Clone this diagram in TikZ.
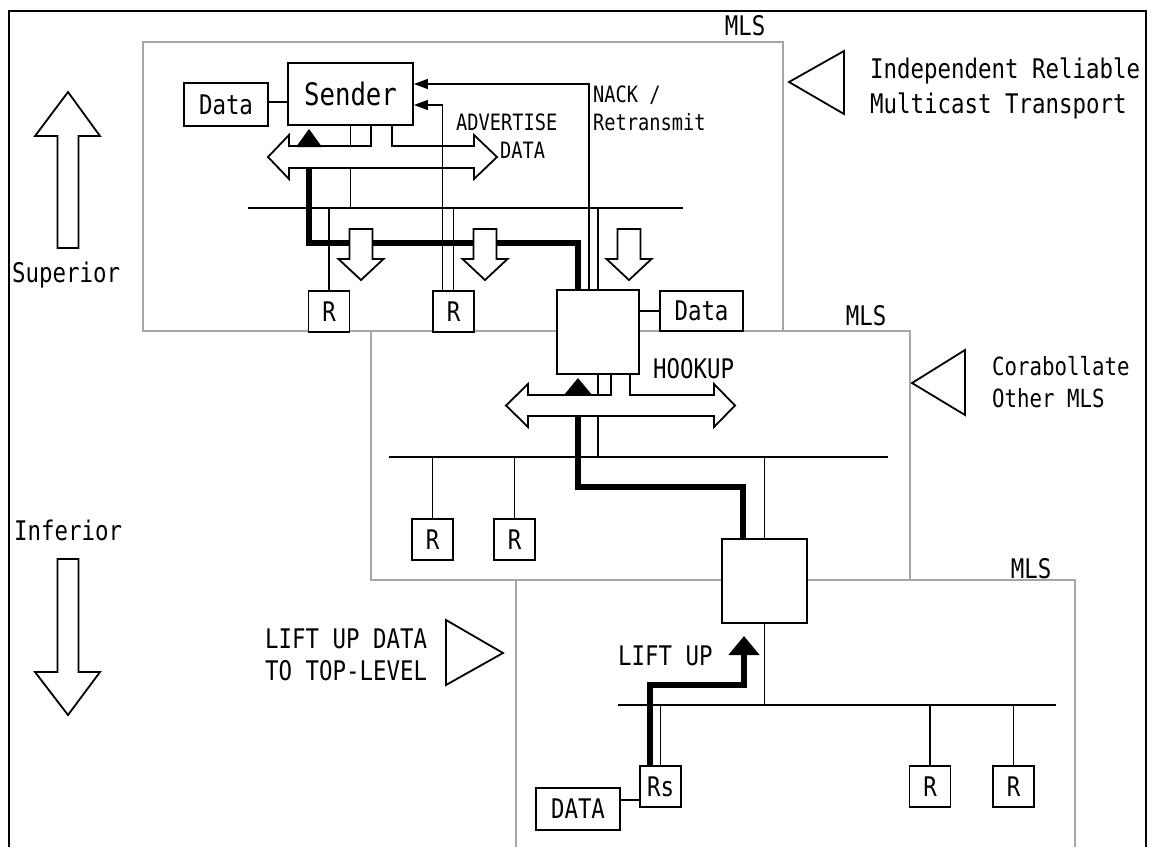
\documentclass[tikz,border=0pt]{standalone}
\usepackage{fontspec}
\usetikzlibrary{arrows.meta}
\newfontfamily\gothic[FakeStretch=0.83]{DejaVu Sans Mono}
\newcommand\gfz[1]{\gothic\fontsize{#1}{#1}\selectfont}
\begin{document}
\begin{tikzpicture}[x=1pt,y=-1pt,
  mls/.style={draw=black!35, line width=1.5pt},
  box/.style={draw, line width=1.8pt, fill=white, inner sep=0pt, font=\gfz{27}},
  rbox/.style={box, minimum width=41pt, minimum height=41pt},
  wire/.style={line width=1.3pt},
  fat/.style={line width=6pt},
  hollow/.style={draw, fill=white, line width=1.8pt, line join=miter},
  tri/.style={draw, line width=1.8pt, line join=miter},
  lbl/.style={inner sep=0pt, anchor=base west, font=\gfz{27}},
  slbl/.style={inner sep=0pt, anchor=base west, font=\gfz{22.5}}
]
\useasboundingbox (0,0) rectangle (1156,847);
\fill[white] (0,0) rectangle (1156,847);

% MLS layers
\draw[mls] (143,42) rectangle (783,331);
\draw[mls] (371,331) rectangle (910,580);
\draw[mls] (516,847) -- (516,580) -- (1075,580) -- (1075,847);

% outer frame
\draw[line width=2.5pt] (9,847) -- (9,11) -- (1146,11) -- (1146,847);

% nodes
\node[box, minimum width=84pt, minimum height=43pt] (dataT) at (226,104.5) {Data};
\node[box, minimum width=125pt, minimum height=62pt, font=\gfz{31}] (sender) at (350.5,94) {Sender};
\node[rbox] (r1) at (329,311.5) {R};
\node[rbox] (r2) at (453.5,311.5) {R};
\node[box, minimum width=82pt, minimum height=84pt] (gw1) at (598,332) {};
\node[box, minimum width=83pt, minimum height=40pt] (dataG) at (701.5,311) {Data};
\node[rbox] (r3) at (432.5,539.5) {R};
\node[rbox] (r4) at (514.5,539.5) {R};
\node[box, minimum width=85pt, minimum height=84pt] (gw2) at (764.5,581) {};
\node[rbox] (rs) at (660.5,786.5) {Rs};
\node[box, minimum width=84pt, minimum height=42pt] (dataB) at (578,809) {DATA};
\node[rbox] (r5) at (930,786.5) {R};
\node[rbox] (r6) at (1013.5,786.5) {R};

% buses
\coordinate (b1L) at (248,208); \coordinate (b1R) at (683,208);
\coordinate (b2L) at (389,457); \coordinate (b2R) at (888,457);
\coordinate (b3L) at (618,705); \coordinate (b3R) at (1056,705);
\draw[wire] (b1L) -- (b1R);
\draw[wire] (b2L) -- (b2R);
\draw[wire] (b3L) -- (b3R);

% wires
\draw[wire] (dataT.east |- sender.west) ++(0,8) -- (sender.west |- 0,102);
\draw[wire] (sender.south) -- (sender.south |- b1L);
\draw[wire] (r1.north) -- (r1.north |- b1L);
\draw[wire] (r2.north) -- (r2.north |- b1L);
\draw[wire] (gw1.north) -- (gw1.north |- b1L);
\draw[wire] (dataG.west) -- (dataG.west -| gw1.east);
\draw[wire] (gw1.south) -- (gw1.south |- b2L);
\draw[wire] (r3.north) -- (r3.north |- b2L);
\draw[wire] (r4.north) -- (r4.north |- b2L);
\draw[wire] (gw2.north) -- (gw2.north |- b2L);
\draw[wire] (gw2.south) -- (gw2.south |- b3L);
\draw[wire] (rs.north) -- (rs.north |- b3L);
\draw[wire] (r5.north) -- (r5.north |- b3L);
\draw[wire] (r6.north) -- (r6.north |- b3L);
\draw[line width=1.6pt] ([yshift=9pt]dataB.east) -- ([yshift=9pt]dataB.east -| rs.west);

% thick lift-up paths
\coordinate (k1) at (309,243);
\coordinate (k2) at (578,487);
\coordinate (k3) at (744,685);
\draw[fat] ([xshift=-20pt]gw1.north) |- (k1) -- (309,168);
\draw[fat] ([xshift=-21.5pt]gw2.north) |- (k2) -- (578,416);
\draw[fat, -{Triangle[width=30pt,length=19pt]}] ([xshift=-10.5pt]rs.north) |- (k3) -- (744,636);

% hollow down arrows in top layer
\foreach \c in {361,485,629}
  \draw[hollow] (\c-11.5,229) -- (\c+11.5,229) -- (\c+11.5,259) -- (\c+22.5,259)
    -- (\c,280) -- (\c-22.5,259) -- (\c-11.5,259) -- cycle;

% double arrows
\draw[hollow] (268,157) -- (289,135) -- (289,146) -- (371,146) -- (371,125) -- (392,125)
  -- (392,146) -- (474,146) -- (474,135) -- (497,157) -- (474,179) -- (474,168)
  -- (289,168) -- (289,179) -- cycle;
\draw[hollow] (506,405.5) -- (528,384) -- (528,395) -- (611,395) -- (611,374) -- (630,374)
  -- (630,395) -- (714,395) -- (714,384) -- (735,405.5) -- (714,427) -- (714,416)
  -- (528,416) -- (528,427) -- cycle;

% NACK / retransmit feedback
\draw[wire, -{Triangle[length=14pt,width=10pt]}] ([xshift=-11pt]r2.north) |- ([yshift=-11pt]sender.east);
\draw[wire, -{Triangle[length=14pt,width=10pt]}] ([xshift=-9pt]gw1.north) |- ([yshift=10pt]sender.east);

% black heads
\fill (296,147) -- (309,129) -- (322,147) -- cycle;
\fill (564,395) -- (578,378) -- (592,395) -- cycle;

% left big arrows
\draw[hollow] (68,92) -- (100,136) -- (78.5,136) -- (78.5,248) -- (57.5,248) -- (57.5,136) -- (35,136) -- cycle;
\draw[hollow] (57.5,559) -- (78.5,559) -- (78.5,672) -- (100,672) -- (68,715) -- (35,672) -- (57.5,672) -- cycle;

% triangles
\draw[tri] (789,82) -- (844,51) -- (844,114) -- cycle;
\draw[tri] (912,383) -- (965,350) -- (965,415) -- cycle;
\draw[tri] (446,620) -- (446,685) -- (503,653) -- cycle;

% labels
\node[lbl, anchor=base] (mls1) at (745,35) {MLS};
\node[lbl, anchor=base] (mls2) at (866,325) {MLS};
\node[lbl, anchor=base] (mls3) at (1031,578) {MLS};
\node[lbl] (irmt1) at (870,78) {Independent Reliable};
\node[lbl] (irmt2) at (870,113) {Multicast Transport};
\node[inner sep=0pt, anchor=base west, font=\gfz{25}] (cor1) at (992,375) {Corabollate};
\node[inner sep=0pt, anchor=base west, font=\gfz{25}] (cor2) at (992,407) {Other MLS};
\node[lbl] (sup) at (12,282) {Superior};
\node[lbl] (inf) at (14,540) {Inferior};
\node[lbl] (lud1) at (265,648) {LIFT UP DATA};
\node[lbl] (lud2) at (265,680) {TO TOP-LEVEL};
\node[lbl] (hook) at (653,378) {HOOKUP};
\node[lbl] (lift) at (618,665) {LIFT UP};
\node[slbl] (adv1) at (456,130) {ADVERTISE};
\node[slbl] (adv2) at (500,158) {DATA};
\node[slbl] (nack1) at (593,102) {NACK /};
\node[slbl] (nack2) at (593,130) {Retransmit};
\end{tikzpicture}
\end{document}
